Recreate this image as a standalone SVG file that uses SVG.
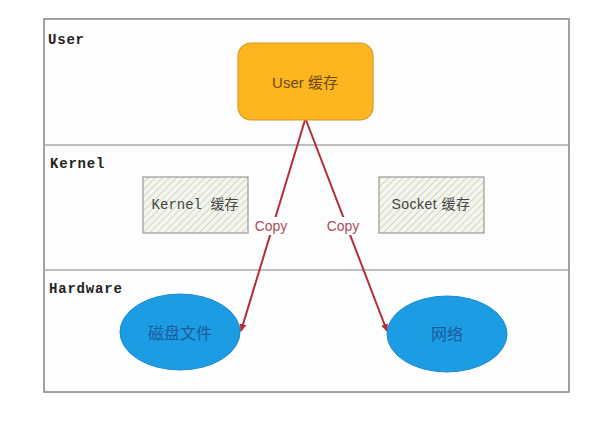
<svg xmlns="http://www.w3.org/2000/svg" width="615" height="422" viewBox="0 0 615 422">
<style>
.lane{font-family:"Liberation Mono","DejaVu Sans Mono",monospace;font-weight:bold;font-size:14px;letter-spacing:0.8px;fill:#222}
.hatchbox{fill:url(#hatch);stroke:#9a9a9a;stroke-width:1.2}
.lbl{font-family:"Liberation Sans","Noto Sans CJK SC",sans-serif;font-size:14px;text-anchor:middle;dominant-baseline:central}
.ell{fill:#1c9ce3;stroke:#1a8ad0;stroke-width:1}
.conn{stroke:#b32c38;stroke-width:2;fill:none;marker-end:url(#arr)}
.copy{font-family:"Liberation Sans",sans-serif;font-size:14px;fill:#a8505e;text-anchor:middle;dominant-baseline:central}
</style>
<defs>
<pattern id="hatch" patternUnits="userSpaceOnUse" width="5" height="5" patternTransform="rotate(45)">
<rect width="5" height="5" fill="#f4f6ee"/>
<line x1="0" y1="0" x2="0" y2="5" stroke="#bfc5ad" stroke-width="1.3"/>
</pattern>
<marker id="arr" markerWidth="8" markerHeight="8" refX="7" refY="4" orient="auto" markerUnits="userSpaceOnUse">
<path d="M0,0.5 L8,4 L0,7.5 Z" fill="#b32c38"/>
</marker>
</defs>
<rect width="615" height="422" fill="#ffffff"/>
<g id="frame">
<rect x="44" y="19" width="525" height="373" fill="#fdfdfd" stroke="#8a8a8a" stroke-width="1.6"/>
<line x1="44" y1="145" x2="569" y2="145" stroke="#a8a8a8" stroke-width="1.4"/>
<line x1="44" y1="270" x2="569" y2="270" stroke="#a8a8a8" stroke-width="1.4"/>
<text class="lane" x="48" y="44">User</text>
<text class="lane" x="50" y="168">Kernel</text>
<text class="lane" x="49" y="293">Hardware</text>
</g>
<g id="connectors">
<line class="conn" x1="305" y1="120" x2="241" y2="331"/>
<line class="conn" x1="306" y1="120" x2="387" y2="331"/>
<rect x="254" y="217" width="34" height="18" fill="#fdfdfd"/>
<rect x="326" y="217" width="34" height="18" fill="#fdfdfd"/>
<text class="copy" x="271" y="226">Copy</text>
<text class="copy" x="343" y="226">Copy</text>
</g>
<g id="user-cache">
<rect x="238" y="43" width="135" height="77" rx="13" ry="13" fill="#fdb520" stroke="#d09a2a" stroke-width="1.2"/>
<text class="lbl" x="305" y="82" style="font-size:15px;fill:#6b4a10">User  缓存</text>
</g>
<g id="kernel-cache">
<rect class="hatchbox" x="143" y="177" width="105" height="56"/>
<text class="lbl" x="195" y="205" style="font-family:'Liberation Mono','Noto Sans CJK SC',monospace;fill:#444">Kernel 缓存</text>
</g>
<g id="socket-cache">
<rect class="hatchbox" x="379" y="177" width="105" height="56"/>
<text class="lbl" x="431" y="204" style="fill:#444;letter-spacing:0.5px">Socket 缓存</text>
</g>
<g id="disk-file">
<ellipse class="ell" cx="180" cy="332" rx="60" ry="38"/>
<text class="lbl" x="180" y="333" style="font-size:16px;fill:#1c5c9c">磁盘文件</text>
</g>
<g id="network">
<ellipse class="ell" cx="447" cy="334" rx="60" ry="38"/>
<text class="lbl" x="447" y="334" style="font-size:16px;fill:#1c5c9c">网络</text>
</g>
</svg>
